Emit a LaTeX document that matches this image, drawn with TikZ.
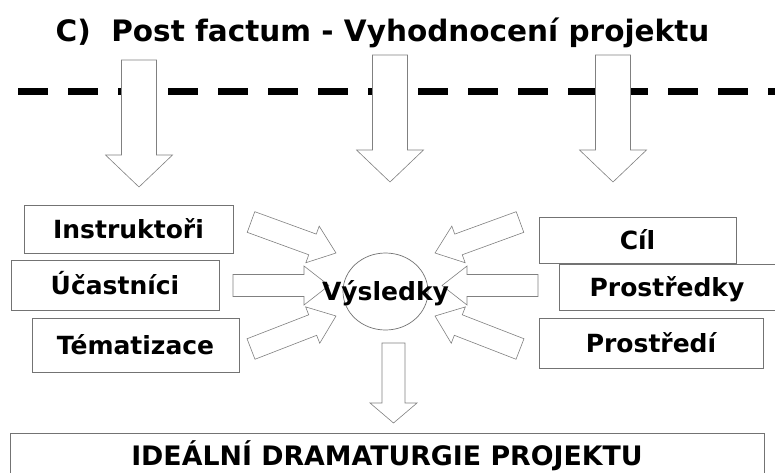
\documentclass[tikz,border=0pt]{standalone}
\usepackage{fontspec}
\setmainfont{DejaVu Sans}
\usepackage{tikz}
\usetikzlibrary{calc,shapes.geometric}
\tikzstyle{box} = [draw=black!55,fill=white,line width=0.7pt,inner sep=0pt,text height=18.2pt,text depth=0pt,font=\bfseries\fontsize{25}{30}\selectfont]
\tikzstyle{fat} = [draw=black!50,fill=white,line width=0.6pt]
% block arrow: tail, tip, half shaft, half head, head length
\newcommand{\fatarrow}[5]{%
  \draw[fat] let \p1=(#1),\p2=(#2),\n1={atan2(\y2-\y1,\x2-\x1)},\n2={veclen(\x2-\x1,\y2-\y1)} in
    [shift={(\p1)},rotate=\n1] (0,-#3) -- (\n2-#5,-#3) -- (\n2-#5,-#4) -- (\n2,0)
    -- (\n2-#5,#4) -- (\n2-#5,#3) -- (0,#3) -- cycle;}

\begin{document}
\begin{tikzpicture}[x=1pt,y=1pt,cut/.style={line width=7pt,dash pattern=on 30pt off 20pt}]
    \useasboundingbox (0,0) rectangle (775,-472);

    \node[anchor=base,font=\bfseries\fontsize{29.5}{35}\selectfont] (title) at (382.5,-41) {C)\ \ Post factum - Vyhodnocení projektu};
    \draw[cut] (18,-91) -- (775,-91);

    % arrows from the line
    \coordinate (a1) at (139,-60);  \coordinate (b1) at (139,-187);
    \coordinate (a2) at (390,-55);  \coordinate (b2) at (390,-182);
    \coordinate (a3) at (613,-55);  \coordinate (b3) at (613,-182);
    \fatarrow{a1}{b1}{17.5}{33.5}{32}
    \fatarrow{a2}{b2}{17.5}{33.5}{32}
    \fatarrow{a3}{b3}{17.5}{33.5}{32}

    \node[box,minimum width=209pt,minimum height=48pt] (instr) at (128.5,-229) {Instruktoři};
    \node[box,minimum width=208pt,minimum height=50pt] (ucast) at (115,-285) {Účastníci};
    \node[box,minimum width=207pt,minimum height=54pt] (tema) at (135.5,-345) {Tématizace};
    \node[box,minimum width=197pt,minimum height=46pt] (cil) at (637.5,-240) {Cíl};
    \node[box,minimum width=216pt,minimum height=46pt] (prostredky) at (667,-287) {Prostředky};
    \node[box,minimum width=224pt,minimum height=50pt] (prostredi) at (651,-343) {Prostředí};

    % arrows into the result
    \coordinate (l1) at (251,-222);   \coordinate (m1) at (336,-253);
    \coordinate (l2) at (233,-285.5); \coordinate (m2) at (329,-285.5);
    \coordinate (l3) at (251,-349);   \coordinate (m3) at (336,-316);
    \coordinate (r1) at (520,-222);   \coordinate (n1) at (435,-253);
    \coordinate (r2) at (538,-285.5); \coordinate (n2) at (442,-285.5);
    \coordinate (r3) at (520,-349);   \coordinate (n3) at (435,-316);
    \fatarrow{l1}{m1}{11}{19.5}{25}
    \fatarrow{l2}{m2}{11}{19.5}{25}
    \fatarrow{l3}{m3}{11}{19.5}{25}
    \fatarrow{r1}{n1}{11}{19.5}{25}
    \fatarrow{r2}{n2}{11}{19.5}{25}
    \fatarrow{r3}{n3}{11}{19.5}{25}

    \node[draw=black!55,fill=white,line width=0.7pt,ellipse,inner sep=0pt,minimum width=85pt,minimum height=77pt,
      label={[font=\bfseries\fontsize{25}{30}\selectfont,text height=18.2pt,text depth=0pt]center:Výsledky}] (vysl) at (385.5,-291.5) {};

    \coordinate (d1) at (393.5,-343); \coordinate (d2) at (393.5,-423);
    \fatarrow{d1}{d2}{11.5}{23.5}{20}

    \node[box,minimum width=754pt,minimum height=46pt,text height=19.4pt,font=\bfseries\fontsize{26.8}{32}\selectfont] (ideal) at (387,-456) {IDEÁLNÍ DRAMATURGIE PROJEKTU};

\end{tikzpicture}
\end{document}
